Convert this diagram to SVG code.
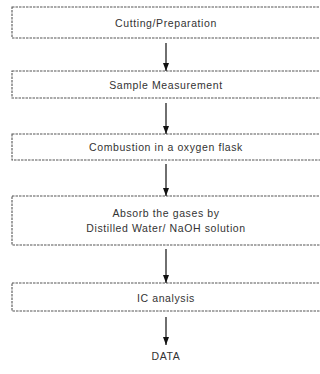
<svg xmlns="http://www.w3.org/2000/svg" width="320" height="374" viewBox="0 0 320 374">
  <defs>
    <marker id="head" viewBox="0 0 8 6" refX="8" refY="3" markerWidth="8" markerHeight="6" markerUnits="userSpaceOnUse" orient="auto">
      <path d="M0,0 L8,3 L0,6 Z" fill="#111"/>
    </marker>
  </defs>
  <style>
    .box { fill: #fff; stroke: #555; stroke-width: 1.1; stroke-dasharray: 2.5 1; }
    .lbl { font-family: "Liberation Sans", Arial, sans-serif; font-size: 10.5px; letter-spacing: 0.6px; fill: #333; text-anchor: middle; dominant-baseline: central; }
    .link { stroke: #222; stroke-width: 1.3; fill: none; }
  </style>
  <rect width="320" height="374" fill="#fff"/>

  <!-- process steps -->
  <g id="cutting">
    <rect class="box" x="12" y="7" width="320" height="31"/>
    <text class="lbl" x="166" y="23">Cutting/Preparation</text>
  </g>
  <g id="measurement">
    <rect class="box" x="12" y="71" width="320" height="27"/>
    <text class="lbl" x="166" y="85">Sample Measurement</text>
  </g>
  <g id="combustion">
    <rect class="box" x="12" y="134" width="320" height="26"/>
    <text class="lbl" x="166" y="147">Combustion in a oxygen flask</text>
  </g>
  <g id="absorb">
    <rect class="box" x="12" y="196" width="320" height="49"/>
    <text class="lbl" x="166" y="213">Absorb the gases by</text>
    <text class="lbl" x="166" y="228">Distilled Water/ NaOH solution</text>
  </g>
  <g id="ic-analysis">
    <rect class="box" x="12" y="283" width="320" height="28"/>
    <text class="lbl" x="166" y="298">IC analysis</text>
  </g>
  <g id="data">
    <text class="lbl" x="166" y="356">DATA</text>
  </g>

  <!-- connectors -->
  <g id="connectors">
    <line class="link" x1="166" y1="43" x2="166" y2="71" marker-end="url(#head)"/>
    <line class="link" x1="166" y1="103" x2="166" y2="134" marker-end="url(#head)"/>
    <line class="link" x1="166" y1="164" x2="166" y2="196" marker-end="url(#head)"/>
    <line class="link" x1="166" y1="249" x2="166" y2="283" marker-end="url(#head)"/>
    <line class="link" x1="166" y1="317" x2="166" y2="345" marker-end="url(#head)"/>
  </g>
</svg>
